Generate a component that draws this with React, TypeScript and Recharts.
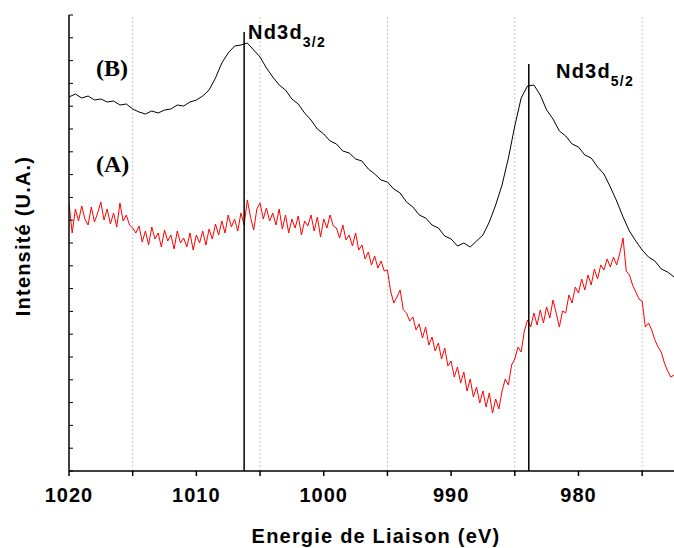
import { LineChart, Line, XAxis, YAxis, ReferenceLine } from "recharts";

// binding energy grid (eV), spectra stored as intensity (a.u.)
const E_START = 1020;
const STEP_A = 0.25;
const STEP_B = 0.5;

// spectrum (A) – red, 0.25 eV steps from 1020 eV
const specA = [
  268, 238, 262, 250, 265, 252, 246, 264, 249, 258, 269, 251, 262, 247, 258, 244,
  268, 250, 256, 246, 243, 238, 245, 229, 240, 226, 244, 232, 238, 224, 241, 230,
  236, 222, 240, 228, 233, 224, 238, 221, 236, 228, 240, 226, 242, 232, 247, 236,
  250, 238, 256, 244, 252, 240, 258, 246, 271, 254, 241, 262, 268, 252, 263, 250,
  258, 246, 262, 242, 256, 238, 252, 243, 255, 236, 250, 245, 256, 240, 254, 234,
  252, 243, 256, 245, 243, 233, 246, 231, 236, 225, 238, 221, 226, 212, 219, 206,
  215, 203, 210, 200, 201, 180, 168, 174, 181, 161, 158, 150, 154, 141, 147, 133,
  144, 126, 134, 120, 128, 112, 123, 105, 110, 94, 104, 88, 99, 80, 92, 74,
  84, 68, 80, 64, 78, 58, 72, 62, 80, 92, 86, 106, 112, 124, 119, 140,
  151, 144, 158, 146, 161, 148, 164, 153, 171, 158, 144, 160, 158, 176, 168, 184,
  178, 192, 181, 196, 186, 202, 192, 206, 201, 212, 204, 214, 206, 218, 233, 200,
  196, 186, 179, 172, 170, 144, 148, 141, 131, 124, 119, 108, 100, 94, 96,
];

// spectrum (B) – black, 0.5 eV steps from 1020 eV
const specB = [
  374, 377, 373, 375, 371, 372, 369, 370, 366, 367, 362, 359, 357, 360, 358, 361,
  362, 366, 365, 369, 371, 375, 381, 393, 408, 418, 425, 426, 428, 421, 414, 403,
  394, 386, 381, 372, 367, 358, 351, 342, 337, 330, 327, 320, 318, 312, 310, 302,
  297, 291, 289, 282, 278, 269, 264, 256, 253, 246, 243, 235, 232, 225, 228, 224,
  230, 236, 249, 266, 286, 313, 345, 373, 385, 386, 376, 361, 352, 340, 335, 327,
  324, 316, 313, 304, 297, 284, 270, 254, 240, 230, 221, 214, 210, 202, 199, 194,
];

const xTicks = [1020, 1015, 1010, 1005, 1000, 995, 990, 985, 980, 975];
const gridE = [1015, 1005, 995, 985, 975];
const yTicks = [
  0, 22.8, 45.6, 68.4, 91.2, 114, 136.8, 159.6, 182.4, 205.2, 228, 250.8, 273.6,
  296.4, 319.2, 342, 364.8, 387.6, 410.4, 433.2, 456,
];

// peak markers
const peakE = [1006.25, 983.9];
const peakTop = [439, 407];
const peakMain = ["Nd3d", "Nd3d"];
const peakSub = ["3/2", "5/2"];

const dataA = specA.map((h, i) => ({ e: E_START - i * STEP_A, h }));
const dataB = specB.map((h, i) => ({ e: E_START - i * STEP_B, h }));

const sans = "'Liberation Sans', Arial, sans-serif";
const serif = "'Liberation Serif', 'Times New Roman', serif";

// inward tick mark on the intensity axis, no label
function YTickMark(props: any) {
  const { x, y } = props;
  return <line x1={x} x2={x + 4} y1={y} y2={y} stroke="#000" strokeWidth={1} />;
}

export default function App() {
  return (
    <div style={{ position: "relative", width: 674, height: 548, background: "#fff" }}>
      <style>{`body{margin:0}`}</style>
      <LineChart
        width={674}
        height={548}
        margin={{ top: 15, right: 0, bottom: 47, left: 9 }}
      >
        <XAxis
          type="number"
          dataKey="e"
          domain={[972.5, 1020]}
          reversed
          ticks={xTicks}
          interval={0}
          allowDataOverflow
          height={30}
          tickSize={5}
          tickMargin={12}
          stroke="#000"
          strokeWidth={1.5}
          tickFormatter={(v: number) => (v % 10 === 0 ? String(v) : "")}
          tick={{ fontSize: 20, fontWeight: 700, fill: "#000", fontFamily: sans, letterSpacing: 1 }}
        />
        <YAxis
          type="number"
          domain={[0, 456]}
          ticks={yTicks}
          interval={0}
          width={60}
          tickSize={0}
          tickMargin={0}
          tickLine={false}
          stroke="#000"
          strokeWidth={1.5}
          tick={YTickMark}
        />
        {gridE.map((e) => (
          <ReferenceLine
            key={e}
            x={e}
            stroke="#c8c8c8"
            strokeDasharray="2 2"
          />
        ))}
        <Line
          data={dataA}
          dataKey="h"
          type="linear"
          stroke="#ff0000"
          strokeWidth={1}
          dot={false}
          activeDot={false}
          isAnimationActive={false}
        />
        <Line
          data={dataB}
          dataKey="h"
          type="linear"
          stroke="#000"
          strokeWidth={1}
          dot={false}
          activeDot={false}
          isAnimationActive={false}
        />
        {peakE.map((e, i) => (
          <ReferenceLine
            key={"p" + i}
            segment={[
              { x: e, y: peakTop[i] },
              { x: e, y: 0 },
            ]}
            stroke="#000"
            strokeWidth={1.5}
          />
        ))}
      </LineChart>

      <svg
        width={674}
        height={548}
        style={{ position: "absolute", left: 0, top: 0, pointerEvents: "none" }}
      >
        <text x={248} y={39} fontFamily={sans} fontWeight={700} fontSize={20} letterSpacing={1.2}>
          {peakMain[0]}
          <tspan fontSize={14} dy={8}>{peakSub[0]}</tspan>
        </text>
        <text x={556} y={78} fontFamily={sans} fontWeight={700} fontSize={20} letterSpacing={1.2}>
          {peakMain[1]}
          <tspan fontSize={14} dy={8}>{peakSub[1]}</tspan>
        </text>
        <text x={96} y={76} fontFamily={serif} fontWeight={700} fontSize={24}>(B)</text>
        <text x={96} y={172} fontFamily={serif} fontWeight={700} fontSize={24}>(A)</text>
        <text
          x={376}
          y={543}
          textAnchor="middle"
          fontFamily={sans}
          fontWeight={700}
          fontSize={20}
          letterSpacing={1.2}
        >
          Energie de Liaison (eV)
        </text>
        <text
          transform="translate(30,236) rotate(-90)"
          textAnchor="middle"
          fontFamily={sans}
          fontWeight={700}
          fontSize={20}
          letterSpacing={1.2}
        >
          Intensité (U.A.)
        </text>
      </svg>
    </div>
  );
}
